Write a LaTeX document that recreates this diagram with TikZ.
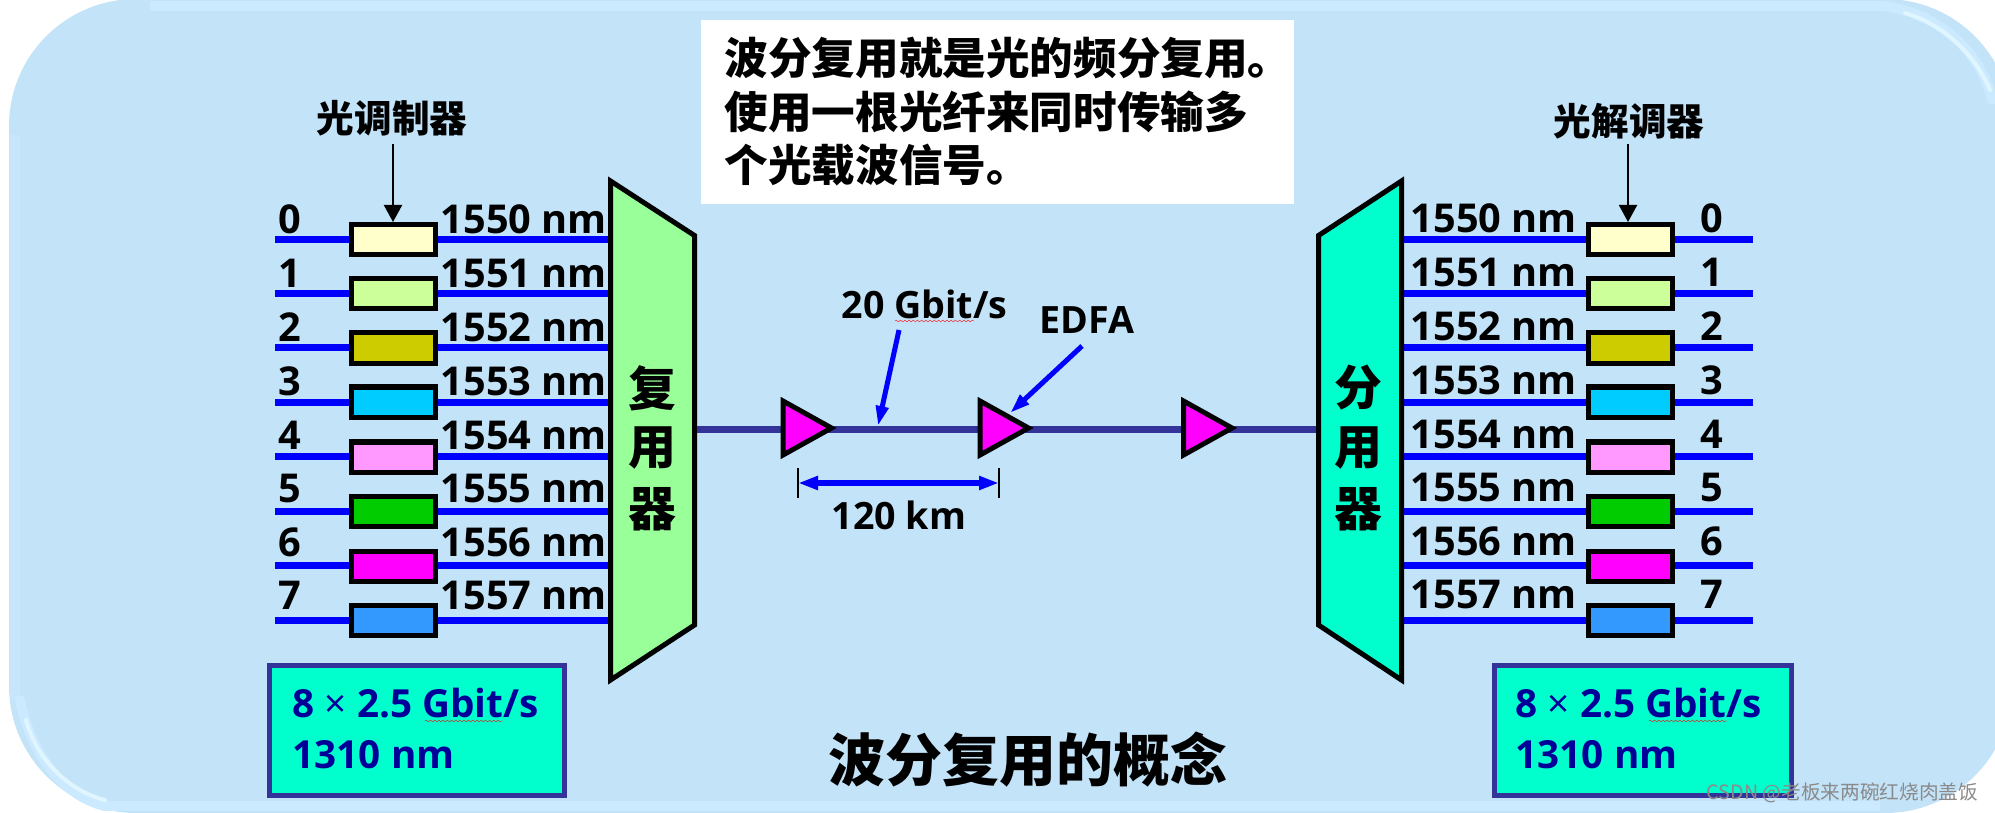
\documentclass[tikz,border=0pt]{standalone}
\usepackage{fontspec}
\setmainfont{Open Sans}[BoldFont={Open Sans Bold}]
\newfontfamily\cjk{Noto Sans CJK SC}
\usetikzlibrary{arrows.meta,decorations.pathmorphing}

\definecolor{panelblue}{HTML}{C3E3F8}
\definecolor{panelglow}{HTML}{CBE9FF}
\definecolor{panelshine}{HTML}{E0F6FF}
\definecolor{trunkblue}{HTML}{333399}
\definecolor{labelblue}{HTML}{000099}
\definecolor{muxgreen}{HTML}{99FF99}
\definecolor{demuxteal}{HTML}{00FFCC}
\definecolor{ampmagenta}{HTML}{FF00FF}
\definecolor{markgray}{HTML}{8A8A8A}

\begin{document}
\begin{tikzpicture}[x=0.01cm, y=-0.01cm,
    fibre/.style={blue, line width=0.07cm},
    trunk/.style={trunkblue, line width=0.07cm},
    frame/.style={draw=black, line width=0.05cm, miter limit=10},
    modbox/.style={frame, minimum width=0.84cm, minimum height=0.30cm, inner sep=0pt, outer sep=0pt},
    wavelabel/.style={anchor=base west, inner sep=0pt, font=\bfseries\fontsize{11.3}{11.3}\selectfont},
    digitlabel/.style={anchor=base, inner sep=0pt, font=\bfseries\fontsize{11.3}{11.3}\selectfont},
    tag/.style={inner sep=0pt, font=\cjk\bfseries\fontsize{10.7}{10.7}\selectfont},
    bigchar/.style={inner sep=0pt, font=\cjk\bfseries\fontsize{13.6}{13.6}\selectfont},
    ratebox/.style={draw=trunkblue, fill=demuxteal, line width=0.05cm, inner sep=0pt, outer sep=0pt},
    ratelabel/.style={anchor=base west, inner sep=0pt, text=labelblue, font=\bfseries\fontsize{11}{11}\selectfont},
    linelabel/.style={anchor=base west, inner sep=0pt, font=\bfseries\fontsize{10.7}{10.7}\selectfont},
    spellmark/.style={red, line width=0.1pt, decorate, decoration={snake, amplitude=0.25pt, segment length=1.2pt}},
    pointer/.style={blue, line width=0.05cm, -{Triangle[length=0.2cm, width=0.12cm]}},
    dropper/.style={black, line width=0.02cm, -{Triangle[length=0.17cm, width=0.18cm]}}]
  \useasboundingbox (0,0) rectangle (1995,812);

  % the panel, lit along its edges
  \fill[panelblue, rounded corners=1.27cm] (9,-1) rectangle (2012,813);
  \draw[panelglow, line width=0.1cm] (150,6) -- (1885,6);
  \draw[panelglow, line width=0.1cm] (105,806) -- (1880,806);
  \draw[panelglow!45!panelblue, line width=0.1cm] (15,135) -- (15,700);
  \draw[panelglow, line width=0.1cm, line cap=round] (1885,6) .. controls (1940,15) and (1980,50) .. (1992,100);
  \draw[panelglow, line width=0.1cm, line cap=round] (20,700) .. controls (30,750) and (60,795) .. (105,806);
  \draw[panelshine, line width=0.04cm, line cap=round] (1905,13) .. controls (1945,25) and (1975,55) .. (1990,90);
  \draw[panelshine, line width=0.04cm, line cap=round] (26,720) .. controls (35,755) and (65,790) .. (105,800);

  % the note
  \node[fill=white, minimum width=5.93cm, minimum height=1.84cm, inner sep=0pt] (note) at (997.5,112) {};
  \node[anchor=west, inner sep=0pt, font=\cjk\bfseries\fontsize{12.4}{15.2}\selectfont, align=left] (notetext) at (724,112)
    {波分复用就是光的频分复用。\\使用一根光纤来同时传输多\\个光载波信号。};

  % the eight channels on both sides
  \foreach \i/\ylin/\ybox/\ybase/\col in {0/239/239.5/233/FFFFCC, 1/293/293.5/287/CCFF99, 2/347/348/341/CCCC00, 3/402/402/395/00CCFF,
      4/456/457/449/FF99FF, 5/511/511.5/502/00CC00, 6/565/566/556/FF00FF, 7/620/620.5/609/3399FF} {
    \definecolor{boxfill}{HTML}{\col}
    \coordinate (lin\i) at (275,\ylin);
    \coordinate (lout\i) at (608,\ylin);
    \coordinate (rin\i) at (1404,\ylin);
    \coordinate (rout\i) at (1753,\ylin);
    \draw[fibre] (lin\i) -- (lout\i);
    \draw[fibre] (rin\i) -- (rout\i);
    \node[modbox, fill=boxfill] (lmod\i) at (393.5,\ybox) {};
    \node[modbox, fill=boxfill] (rmod\i) at (1630,\ybox) {};
    \node[digitlabel] (lnum\i) at (290,\ybase) {\i};
    \node[digitlabel] (rnum\i) at (1712,\ybase-1) {\i};
    \node[wavelabel] (lwave\i) at (440,\ybase) {155\i\ nm};
    \node[wavelabel] (rwave\i) at (1410,\ybase-1) {155\i\ nm};
  }

  % the multiplexer and the demultiplexer
  \draw[frame, fill=muxgreen] (610.5,181) -- (694.5,235.5) -- (694.5,625) -- (610.5,680) -- cycle;
  \draw[frame, fill=demuxteal] (1401.5,181) -- (1318.5,235.5) -- (1318.5,625) -- (1401.5,680) -- cycle;
  \node[bigchar] (muxa) at (652,388) {复};
  \node[bigchar] (muxb) at (652,448) {用};
  \node[bigchar] (muxc) at (652,509) {器};
  \node[bigchar] (demuxa) at (1358,388) {分};
  \node[bigchar] (demuxb) at (1358,448) {用};
  \node[bigchar] (demuxc) at (1358,509) {器};

  % the modulator tags
  \node[tag] (modtag) at (392,118) {光调制器};
  \node[tag] (demodtag) at (1629,121) {光解调器};
  \coordinate (modtop) at (393,144);
  \coordinate (demodtop) at (1628,144);
  \draw[dropper] (modtop) -- (393,222);
  \draw[dropper] (demodtop) -- (1628,222);

  % the line with its amplifiers
  \coordinate (muxout) at (697,429);
  \coordinate (demuxin) at (1316,429);
  \draw[trunk] (muxout) -- (demuxin);
  \foreach \x/\n in {783/a, 980/b, 1183.5/c} {
    \draw[frame, fill=ampmagenta] (\x,401) -- (\x+48.5,428) -- (\x,455) -- cycle;
    \coordinate (amp\n) at (\x,428);
  }

  % the labels of the line
  \node[linelabel] (rate) at (841,318) {20 Gbit/s};
  \node[linelabel] (edfa) at (1039,333) {EDFA};
  \node[linelabel] (span) at (831,529) {120 km};
  \draw[spellmark] (895,321) -- (974,321);
  \coordinate (ratetail) at (899,330);
  \coordinate (ratehead) at (878,426);
  \coordinate (edfatail) at (1082,346);
  \coordinate (edfahead) at (1010,413);
  \draw[pointer] (ratetail) -- (ratehead);
  \draw[pointer] (edfatail) -- (edfahead);

  % the span between two amplifiers
  \coordinate (spanl) at (798,483);
  \coordinate (spanr) at (999,483);
  \draw[black, line width=0.014cm] (798,468) -- (798,498) (999,468) -- (999,498);
  \draw[blue, line width=0.065cm, {Triangle[length=0.2cm, width=0.13cm]}-{Triangle[length=0.2cm, width=0.13cm]}] (spanl) -- (spanr);

  % the rate boxes
  \node[ratebox, minimum width=2.95cm, minimum height=1.30cm] (lrate) at (417,730.5) {};
  \node[ratebox, minimum width=2.97cm, minimum height=1.30cm] (rrate) at (1643,730.5) {};
  \node[ratelabel] (lratea) at (292,717) {8 {\mdseries×} 2.5 Gbit/s};
  \node[ratelabel] (lrateb) at (292,768) {1310 nm};
  \node[ratelabel] (rratea) at (1515,717) {8 {\mdseries×} 2.5 Gbit/s};
  \node[ratelabel] (rrateb) at (1515,768) {1310 nm};
  \draw[spellmark] (425,721) -- (503,721);
  \draw[spellmark] (1649,721) -- (1727,721);

  % the title and the mark in the corner
  \node[inner sep=0pt, font=\cjk\bfseries\fontsize{16.2}{16.2}\selectfont] (title) at (1028,760) {波分复用的概念};
  \node[anchor=east, inner sep=0pt, text=markgray, font=\cjk\fontsize{5.6}{5.6}\selectfont] (mark) at (1979,793) {CSDN @老板来两碗红烧肉盖饭};
\end{tikzpicture}
\end{document}
